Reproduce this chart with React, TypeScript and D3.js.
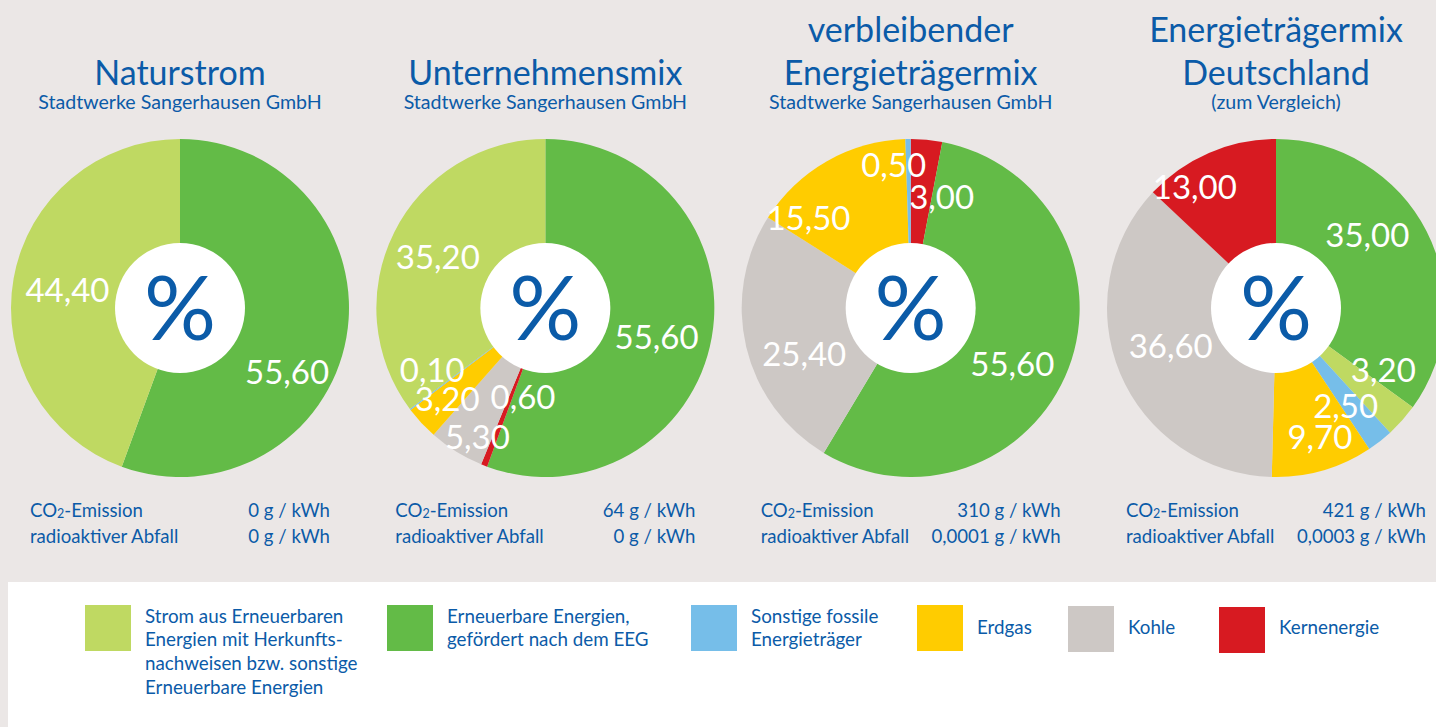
import React from "react";
import * as d3 from "d3";

const W = 1436;
const H = 727;

// ---------- categories ----------
const categoryKeys = ["herkunft", "eeg", "fossil", "erdgas", "kohle", "kern"];
const categoryLines = [
  ["Strom aus Erneuerbaren", "Energien mit Herkunfts-", "nachweisen bzw. sonstige", "Erneuerbare Energien"],
  ["Erneuerbare Energien,", "gefördert nach dem EEG"],
  ["Sonstige fossile", "Energieträger"],
  ["Erdgas"],
  ["Kohle"],
  ["Kernenergie"],
];
const categoryColors = ["#bfd962", "#63bb47", "#76bee9", "#ffcc00", "#cdc8c5", "#d71a21"];

// ---------- pie data (clockwise from 12 o'clock) ----------
const naturstromKeys = ["eeg", "herkunft"];
const naturstromValues = [55.6, 44.4];

const unternehmensKeys = ["eeg", "kern", "kohle", "erdgas", "fossil", "herkunft"];
const unternehmensValues = [55.6, 0.6, 5.3, 3.2, 0.1, 35.2];

const verbleibendKeys = ["kern", "eeg", "kohle", "erdgas", "fossil"];
const verbleibendValues = [3.0, 55.6, 25.4, 15.5, 0.5];

const deutschlandKeys = ["eeg", "herkunft", "fossil", "erdgas", "kohle", "kern"];
const deutschlandValues = [35.0, 3.2, 2.5, 9.7, 36.6, 13.0];

// ---------- texts ----------
const titleLines = [["Naturstrom"], ["Unternehmensmix"], ["verbleibender", "Energieträgermix"], ["Energieträgermix", "Deutschland"]];
const subtitles = ["Stadtwerke Sangerhausen GmbH", "Stadtwerke Sangerhausen GmbH", "Stadtwerke Sangerhausen GmbH", "(zum Vergleich)"];
const co2Values = ["0 g / kWh", "64 g / kWh", "310 g / kWh", "421 g / kWh"];
const wasteValues = ["0 g / kWh", "0 g / kWh", "0,0001 g / kWh", "0,0003 g / kWh"];

// ---------- label layout nudges: [angle offset in degrees, label radius] ----------
const naturstromNudge = [[21, 125], [-1, 114]];
const unternehmensNudge = [[4.6, 115], [-7.2, 92], [-4.1, 146], [0, 134], [8.1, 129], [-1.3, 119]];
const verbleibendNudge = [[10.2, 115], [7.9, 116], [-10.1, 116], [-19, 136], [-5.9, 144]];
const deutschlandNudge = [[-11.7, 117], [-11.7, 124], [2.5, 120], [-2.8, 136], [2.8, 112], [-10.4, 146]];

const pies = [
  { keys: naturstromKeys, values: naturstromValues, nudge: naturstromNudge },
  { keys: unternehmensKeys, values: unternehmensValues, nudge: unternehmensNudge },
  { keys: verbleibendKeys, values: verbleibendValues, nudge: verbleibendNudge },
  { keys: deutschlandKeys, values: deutschlandValues, nudge: deutschlandNudge },
];

// legend layout
const legendX = [85, 387, 691, 917, 1068, 1219];
const legendYOff = [0, 0, 0, 0, 1, 2];

const BLUE = "#0b5ba8";
const BG = "#ebe7e6";
const FONT = "Lato, 'Open Sans', sans-serif";

const deLocale = d3.formatLocale({ decimal: ",", thousands: ".", grouping: [3], currency: ["", " €"] });
const fmt = deLocale.format(".2f");

const colorScale = d3.scaleOrdinal<string, string>().domain(categoryKeys).range(categoryColors);
const centerX = d3.scaleLinear().domain([0, 3]).range([180, 1276]);
const CY = 308;
const R = 169;
const R_IN = 65;

const arcGen = d3.arc<d3.PieArcDatum<number>>().innerRadius(0).outerRadius(R);
const pieGen = d3.pie<number>().sort(null).value((d) => d);

function PieChart({ idx }: { idx: number }) {
  const p = pies[idx];
  const cx = centerX(idx);
  const arcs = pieGen(p.values);
  return (
    <g transform={`translate(${cx},${CY})`}>
      {arcs.map((a, i) => (
        <path key={i} d={arcGen(a) || ""} fill={colorScale(p.keys[i])} />
      ))}
      <circle r={R_IN} fill="#ffffff" />
      <text textAnchor="middle" y={32} fontSize={90} fill={BLUE} fontFamily={FONT}>
        %
      </text>
      {arcs.map((a, i) => {
        const [dAng, rad] = p.nudge[i];
        const ang = (a.startAngle + a.endAngle) / 2 + (dAng * Math.PI) / 180;
        const x = rad * Math.sin(ang);
        const y = -rad * Math.cos(ang);
        return (
          <text
            key={"l" + i}
            x={x}
            y={y}
            dy="0.36em"
            textAnchor="middle"
            fontSize={33}
            fill="#ffffff"
            fontFamily={FONT}
          >
            {fmt(p.values[i])}
          </text>
        );
      })}
    </g>
  );
}

export default function App() {
  return (
    <div style={{ position: "absolute", left: 0, top: 0, width: W, height: H }}>
      <svg width={W} height={H} viewBox={`0 0 ${W} ${H}`} style={{ display: "block" }}>
        <rect x={0} y={0} width={W} height={H} fill={BG} />
        {pies.map((_, i) => (
          <PieChart key={i} idx={i} />
        ))}
        {titleLines.map((lines, i) => (
          <g key={"t" + i} fontFamily={FONT} fill={BLUE} textAnchor="middle">
            {lines.map((ln, j) => (
              <text key={j} x={centerX(i)} y={85 - (lines.length - 1 - j) * 43} fontSize={34}>
                {ln}
              </text>
            ))}
            <text x={centerX(i)} y={109} fontSize={19.6}>
              {subtitles[i]}
            </text>
          </g>
        ))}
        {pies.map((_, i) => {
          const cx = centerX(i);
          return (
            <g key={"e" + i} fontFamily={FONT} fill={BLUE} fontSize={18.6}>
              <text x={cx - 150} y={517}>
                CO<tspan fontSize={12.5} dy={1}>2</tspan>
                <tspan dy={-1}>-Emission</tspan>
              </text>
              <text x={cx + 150} y={517} textAnchor="end">
                {co2Values[i]}
              </text>
              <text x={cx - 150} y={543}>radioaktiver Abfall</text>
              <text x={cx + 150} y={543} textAnchor="end">
                {wasteValues[i]}
              </text>
            </g>
          );
        })}
        <rect x={8} y={582} width={W - 8} height={H - 582} fill="#ffffff" />
        {categoryKeys.map((k, i) => {
          const x = legendX[i];
          const y0 = 605 + legendYOff[i];
          const lines = categoryLines[i];
          const firstBase = lines.length === 1 ? 634 : 622.7;
          return (
            <g key={"lg" + i}>
              <rect x={x} y={y0} width={46} height={46} fill={colorScale(k)} />
              <text fontFamily={FONT} fontSize={18.8} fill={BLUE}>
                {lines.map((ln, j) => (
                  <tspan key={j} x={x + 60} y={firstBase + j * 23.7}>
                    {ln}
                  </tspan>
                ))}
              </text>
            </g>
          );
        })}
      </svg>
    </div>
  );
}
